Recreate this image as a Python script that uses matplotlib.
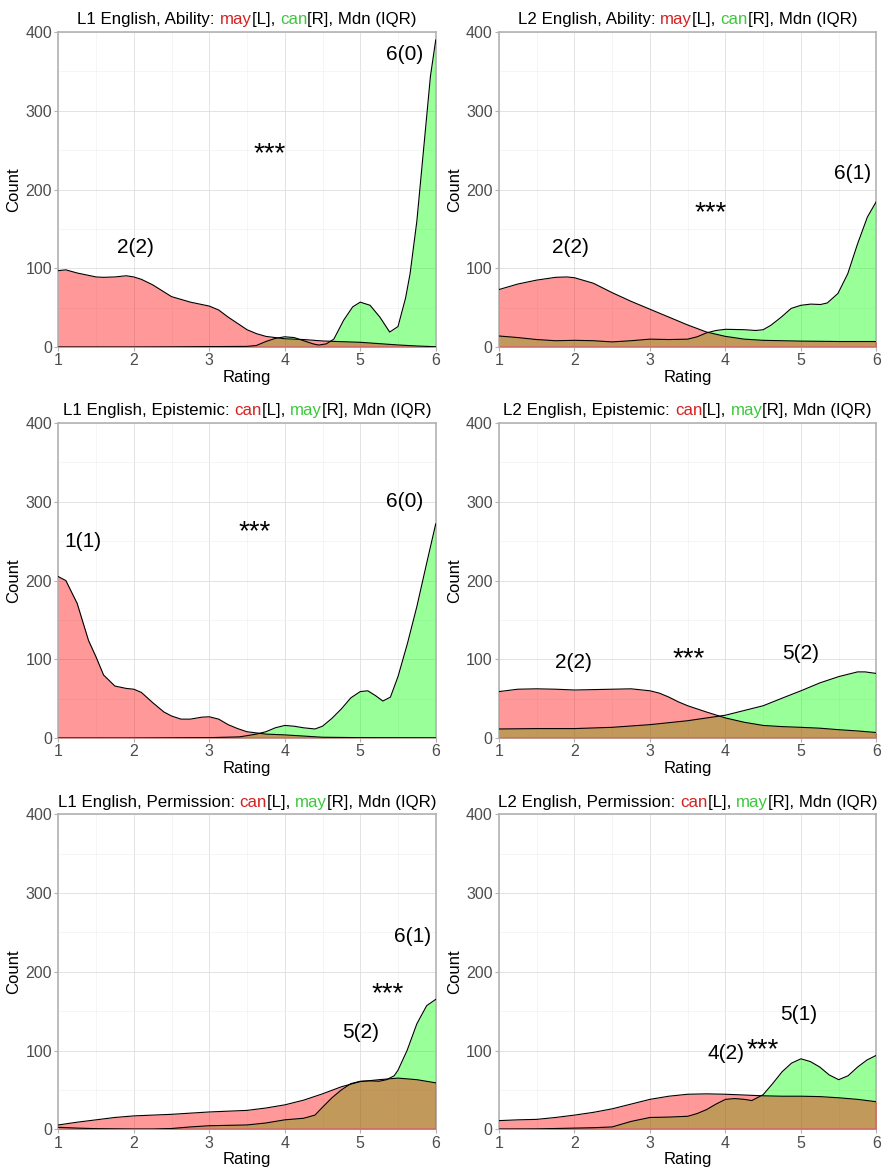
import numpy as np
import matplotlib
matplotlib.use('Agg')
import matplotlib.pyplot as plt
from matplotlib.offsetbox import TextArea, HPacker, AnchoredOffsetbox

plt.rcParams['font.family'] = ['Liberation Sans', 'DejaVu Sans']

# ---- data (density curves scaled to counts) ----
# panel 1: L1 English, Ability
p1_red_x = [1, 1.1, 1.25, 1.5, 1.6, 1.75, 1.9, 2, 2.1, 2.25, 2.4, 2.5, 2.75, 3, 3.125, 3.25, 3.375,
            3.5, 3.625, 3.75, 3.875, 4, 4.25, 4.5, 4.75, 5, 5.25, 5.5, 5.75, 6]
p1_red_y = [97, 98, 94, 89, 88.5, 89, 90.5, 89, 86, 79, 70, 64, 57, 52, 47, 38, 30,
            22, 17, 13.5, 12, 10.5, 9.5, 7.7, 6.8, 6, 4.3, 2.6, 1.3, 0.4]
p1_grn_x = [1, 2, 2.5, 3, 3.5, 3.625, 3.75, 3.875, 4, 4.125, 4.25, 4.375, 4.45, 4.55, 4.65, 4.78,
            4.9, 5, 5.13, 5.26, 5.39, 5.5, 5.6, 5.66, 5.75, 5.84, 5.93, 6]
p1_grn_y = [0, 0, 0.2, 0.5, 0.8, 2, 7, 11, 13, 12, 8, 4, 2.5, 4, 10, 34,
            51, 57, 53, 38, 19, 26, 62, 93, 160, 252, 344, 390]

# panel 2: L2 English, Ability
p2_red_x = [1, 1.25, 1.5, 1.75, 1.9, 2, 2.25, 2.5, 2.75, 3, 3.25, 3.5, 3.75, 4, 4.25, 4.5,
            4.75, 5, 5.5, 6]
p2_red_y = [73, 80, 85, 88.5, 89, 88, 81, 69, 58, 48, 38, 28, 19, 13.5, 10, 8.5,
            8, 7.5, 7, 7]
p2_grn_x = [1, 1.25, 1.5, 1.75, 2, 2.25, 2.5, 2.75, 3, 3.25, 3.5, 3.625, 3.75, 3.875, 4, 4.25,
            4.4, 4.5, 4.6, 4.74, 4.87, 5, 5.13, 5.26, 5.35, 5.49, 5.62, 5.75, 5.88, 6]
p2_grn_y = [14, 12, 9.5, 8, 8.5, 8, 6.5, 8, 10, 9.5, 10, 13, 18, 21, 22.5, 22,
            21, 22, 27.5, 38, 49, 53, 54.5, 54, 56, 68, 93, 131, 165, 185]

# panel 3: L1 English, Epistemic
p3_red_x = [1, 1.1, 1.25, 1.4, 1.5, 1.6, 1.75, 1.9, 2, 2.1, 2.25, 2.4, 2.5, 2.625, 2.75, 2.9,
            3, 3.125, 3.25, 3.375, 3.5, 3.75, 4, 4.25, 4.5, 5, 6]
p3_red_y = [205, 200, 171, 124, 103, 80, 66, 63, 62, 58, 45, 33, 28, 24, 24, 26.5,
            27, 24, 17, 12, 8, 5, 4, 2.5, 1, 0.5, 0.3]
p3_grn_x = [1, 2, 3, 3.4, 3.5, 3.625, 3.75, 3.875, 4, 4.125, 4.25, 4.4, 4.5, 4.625, 4.75, 4.875,
            5, 5.1, 5.2, 5.3, 5.4, 5.5, 5.625, 5.75, 5.875, 6]
p3_grn_y = [0, 0, 0.5, 1.5, 3, 5, 8, 13, 16, 15, 13, 11.5, 15, 25, 37, 51,
            59, 60, 54, 47, 52, 78, 120, 167, 220, 272]

# panel 4: L2 English, Epistemic
p4_red_x = [1, 1.25, 1.5, 1.75, 2, 2.25, 2.5, 2.75, 3, 3.125, 3.25, 3.375, 3.5, 3.75, 4, 4.25,
            4.5, 4.75, 5, 5.25, 5.5, 5.75, 6]
p4_red_y = [59, 62, 62.5, 62, 61, 61.5, 62, 62.5, 60, 57, 52, 46, 41, 33, 25.5, 20,
            16, 14.5, 13.6, 12.5, 10.6, 9, 7]
p4_grn_x = [1, 1.5, 2, 2.5, 3, 3.25, 3.5, 3.75, 4, 4.25, 4.5, 4.75, 5, 5.25, 5.5, 5.75, 5.85, 6]
p4_grn_y = [11.5, 12, 12, 13.6, 17, 19.5, 22, 25.5, 29, 35, 41, 50.6, 60, 70, 78, 84, 84, 82]

# panel 5: L1 English, Permission
p5_red_x = [1, 1.25, 1.5, 1.75, 2, 2.25, 2.5, 2.75, 3, 3.25, 3.5, 3.75, 4, 4.25, 4.5, 4.75,
            5, 5.25, 5.5, 5.75, 6]
p5_red_y = [5.5, 9, 12, 15, 17, 18, 19, 20.5, 22, 23, 24, 27, 31, 37, 45, 54,
            60.5, 63, 65, 63, 59]
p5_grn_x = [1, 1.25, 1.5, 2, 2.25, 2.5, 2.75, 3, 3.25, 3.5, 3.75, 4, 4.25, 4.4, 4.5, 4.625,
            4.75, 4.875, 5, 5.125, 5.25, 5.35, 5.45, 5.5, 5.62, 5.75, 5.88, 6]
p5_grn_y = [2.5, 1.5, 0.8, 0.3, 0.3, 1, 3, 4.5, 5, 5.5, 8, 12, 14, 18, 28, 40,
            50, 58, 61, 61.5, 61, 63, 68, 75, 100, 134, 157, 165]

# panel 6: L2 English, Permission
p6_red_x = [1, 1.25, 1.5, 1.75, 2, 2.25, 2.5, 2.75, 3, 3.25, 3.5, 3.75, 4, 4.25, 4.5, 4.75,
            5, 5.25, 5.5, 5.75, 6]
p6_red_y = [11, 12, 12.6, 15, 18, 21.5, 26, 32, 38, 42, 44.5, 45, 44.5, 43.5, 42.5, 42,
            42, 41.5, 40, 38, 35]
p6_grn_x = [1, 1.5, 2, 2.25, 2.5, 2.75, 3, 3.25, 3.5, 3.625, 3.75, 3.875, 4, 4.125, 4.25, 4.35,
            4.5, 4.625, 4.75, 4.875, 5, 5.125, 5.25, 5.375, 5.5, 5.625, 5.75, 5.875, 6]
p6_grn_y = [0.3, 0.5, 1.5, 2, 3, 10, 15, 15.5, 16.5, 20, 25, 32, 38, 39, 38, 36.5,
            44, 58, 73, 84, 89.5, 86, 79, 69, 63, 68, 79, 88, 94]

# titles: (prefix, left word, right word)
titles = [('L1 English, Ability: ', 'may', 'can'),
          ('L2 English, Ability: ', 'may', 'can'),
          ('L1 English, Epistemic: ', 'can', 'may'),
          ('L2 English, Epistemic: ', 'can', 'may'),
          ('L1 English, Permission: ', 'can', 'may'),
          ('L2 English, Permission: ', 'can', 'may')]

# medians (IQR) and significance labels: (text, x, y)
labels = [[('2(2)', 2.02, 127), ('***', 3.8, 245), ('6(0)', 5.59, 372)],
          [('2(2)', 1.94, 126), ('***', 3.8, 170), ('6(1)', 5.69, 221)],
          [('1(1)', 1.32, 250), ('***', 3.6, 262), ('6(0)', 5.59, 300)],
          [('2(2)', 1.98, 96), ('***', 3.51, 100), ('5(2)', 4.99, 107)],
          [('5(2)', 5.0, 123), ('***', 5.36, 171), ('6(1)', 5.69, 245)],
          [('4(2)', 4.01, 96), ('***', 4.49, 100), ('5(1)', 4.97, 146)]]

curves = [(p1_red_x, p1_red_y, p1_grn_x, p1_grn_y),
          (p2_red_x, p2_red_y, p2_grn_x, p2_grn_y),
          (p3_red_x, p3_red_y, p3_grn_x, p3_grn_y),
          (p4_red_x, p4_red_y, p4_grn_x, p4_grn_y),
          (p5_red_x, p5_red_y, p5_grn_x, p5_grn_y),
          (p6_red_x, p6_red_y, p6_grn_x, p6_grn_y)]

RED_TXT = '#D42222'
GRN_TXT = '#3CC83C'

fig = plt.figure(figsize=(8.86, 11.7), dpi=100)
lefts = [0.0658, 0.5632]
bottoms = [0.7034, 0.3692, 0.0348]
w, h = 0.426, 0.2692

for i in range(6):
    row, col = divmod(i, 2)
    ax = fig.add_axes([lefts[col], bottoms[row], w, h])
    rx, ry, gx, gy = curves[i]

    # green first, red on top -> brownish overlap
    ax.fill_between(gx, 0, gy, color=(0, 1, 0), alpha=0.4, lw=0, zorder=2)
    ax.fill_between(rx, 0, ry, color=(1, 0, 0), alpha=0.4, lw=0, zorder=3)
    ax.plot(gx, gy, color='black', lw=0.8, zorder=4)
    ax.plot(rx, ry, color='black', lw=0.8, zorder=4)

    ax.set_xlim(1, 6)
    ax.set_ylim(0, 400)
    ax.set_xticks(range(1, 7))
    ax.set_yticks(range(0, 401, 100))
    ax.set_xticks(np.arange(1.5, 6, 1), minor=True)
    ax.set_yticks(range(50, 400, 100), minor=True)
    ax.grid(which='major', color='#DEDEDE', lw=0.6, zorder=0)
    ax.grid(which='minor', color='#EEEEEE', lw=0.4, zorder=0)
    ax.set_axisbelow(True)
    ax.tick_params(which='major', length=3, color='#B3B3B3', labelsize=11.5,
                   labelcolor='#4D4D4D', pad=1.5)
    ax.tick_params(which='minor', length=0)
    for s in ax.spines.values():
        s.set_color('#B3B3B3')
        s.set_linewidth(1.2)
    ax.set_xlabel('Rating', fontsize=12, labelpad=1)
    ax.set_ylabel('Count', fontsize=12, labelpad=3)

    for txt, x, y in labels[i]:
        fs = 20 if txt == '***' else 15
        ax.text(x, y, txt, ha='center', va='center', fontsize=fs, zorder=5)

    # coloured title
    pre, left_w, right_w = titles[i]
    tprops = dict(fontsize=12.2)
    parts = [TextArea(pre, textprops=dict(color='black', **tprops)),
             TextArea(left_w, textprops=dict(color=RED_TXT, **tprops)),
             TextArea('[L], ', textprops=dict(color='black', **tprops)),
             TextArea(right_w, textprops=dict(color=GRN_TXT, **tprops)),
             TextArea('[R], Mdn (IQR)', textprops=dict(color='black', **tprops))]
    box = HPacker(children=parts, align='baseline', pad=0, sep=0)
    anch = AnchoredOffsetbox(loc='lower center', child=box, pad=0, borderpad=0,
                             frameon=False, bbox_to_anchor=(0.5, 1.015),
                             bbox_transform=ax.transAxes)
    ax.add_artist(anch)

fig.savefig('out.png', dpi=100)
